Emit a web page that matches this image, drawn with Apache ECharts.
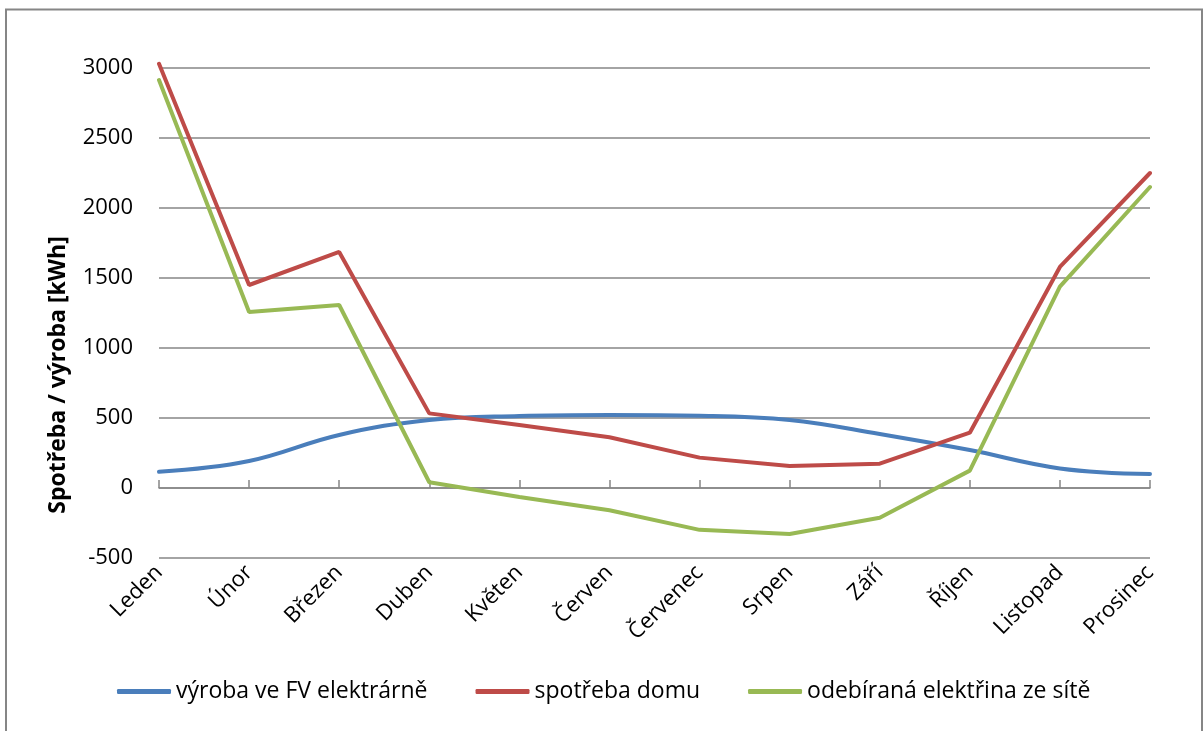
<!DOCTYPE html>
<html>
<head>
<meta charset="utf-8">
<script src="https://cdn.jsdelivr.net/npm/echarts@6/dist/echarts.min.js"></script>
<style>
  html, body { margin: 0; padding: 0; background: #fff; }
  #chart { width: 1204px; height: 731px; }
</style>
</head>
<body>
<div id="chart"></div>
<script>
// Months of the year
const months = ['Leden', 'Únor', 'Březen', 'Duben', 'Květen', 'Červen',
  'Červenec', 'Srpen', 'Září', 'Říjen', 'Listopad', 'Prosinec'];

// Monthly energy in kWh
const vyrobaFV     = [116, 193, 379, 486, 514, 521, 516, 486, 386, 271, 140, 100];
const spotrebaDomu = [3030, 1450, 1686, 533, 450, 362, 217, 157, 174, 395, 1579, 2250];
const odberSit     = [2914, 1257, 1307, 41, -64, -159, -299, -329, -212, 124, 1439, 2150];

const seriesNames = ['výroba ve FV elektrárně', 'spotřeba domu', 'odebíraná elektřina ze sítě'];
const yTitle = 'Spotřeba / výroba [kWh]';

const FONT = '"Open Sans"';
const GRID_COLOR = '#868686';

const chart = echarts.init(document.getElementById('chart'));

chart.setOption({
  animation: false,
  textStyle: { fontFamily: FONT },
  grid: { left: 159, right: 54, top: 68, bottom: 173, containLabel: false },
  xAxis: [
    {
      // bottom axis carrying the rotated month labels
      type: 'category',
      data: months,
      boundaryGap: false,
      position: 'bottom',
      axisLine: { show: false, onZero: false },
      axisTick: { show: false },
      axisLabel: { rotate: 45, fontSize: 22, color: '#000', margin: 11, fontFamily: FONT },
      splitLine: { show: false }
    },
    {
      // zero line with inward tick marks
      type: 'category',
      data: months,
      boundaryGap: false,
      position: 'bottom',
      axisLine: { show: true, onZero: true, lineStyle: { color: GRID_COLOR, width: 1.5 } },
      axisTick: { show: true, inside: true, length: 8, lineStyle: { color: GRID_COLOR, width: 1.5 } },
      axisLabel: { show: false },
      splitLine: { show: false }
    }
  ],
  yAxis: {
    type: 'value',
    min: -500,
    max: 3000,
    interval: 500,
    axisLine: { show: false },
    axisTick: { show: false },
    axisLabel: {
      fontSize: 22, color: '#000', margin: 26, fontFamily: FONT,
      formatter: (v) => String(v)
    },
    splitLine: { lineStyle: { color: GRID_COLOR, width: 1.5 } }
  },
  legend: {
    left: 117,
    top: 680,
    padding: 0,
    itemWidth: 54,
    itemHeight: 5,
    itemGap: 48,
    icon: 'roundRect',
    textStyle: { fontSize: 23, color: '#000', fontFamily: FONT },
    data: seriesNames
  },
  graphic: [
    {
      type: 'rect',
      shape: { x: 6, y: 9.5, width: 1196, height: 760 },
      style: { fill: 'none', stroke: GRID_COLOR, lineWidth: 2 },
      silent: true
    },
    {
      type: 'text',
      x: 58,
      y: 375,
      rotation: Math.PI / 2,
      style: {
        text: yTitle,
        font: 'bold 23px ' + FONT,
        fill: '#000',
        textAlign: 'center',
        textVerticalAlign: 'middle'
      }
    }
  ],
  series: [
    {
      name: seriesNames[0],
      type: 'line',
      data: vyrobaFV,
      smooth: 0.4,
      symbol: 'none',
      clip: false,
      color: '#4A7EBB',
      lineStyle: { width: 4, cap: 'round' }
    },
    {
      name: seriesNames[1],
      type: 'line',
      data: spotrebaDomu,
      symbol: 'none',
      clip: false,
      color: '#BE4B48',
      lineStyle: { width: 4, cap: 'round' }
    },
    {
      name: seriesNames[2],
      type: 'line',
      data: odberSit,
      symbol: 'none',
      clip: false,
      color: '#98B954',
      lineStyle: { width: 4, cap: 'round' }
    }
  ]
});
</script>
</body>
</html>
